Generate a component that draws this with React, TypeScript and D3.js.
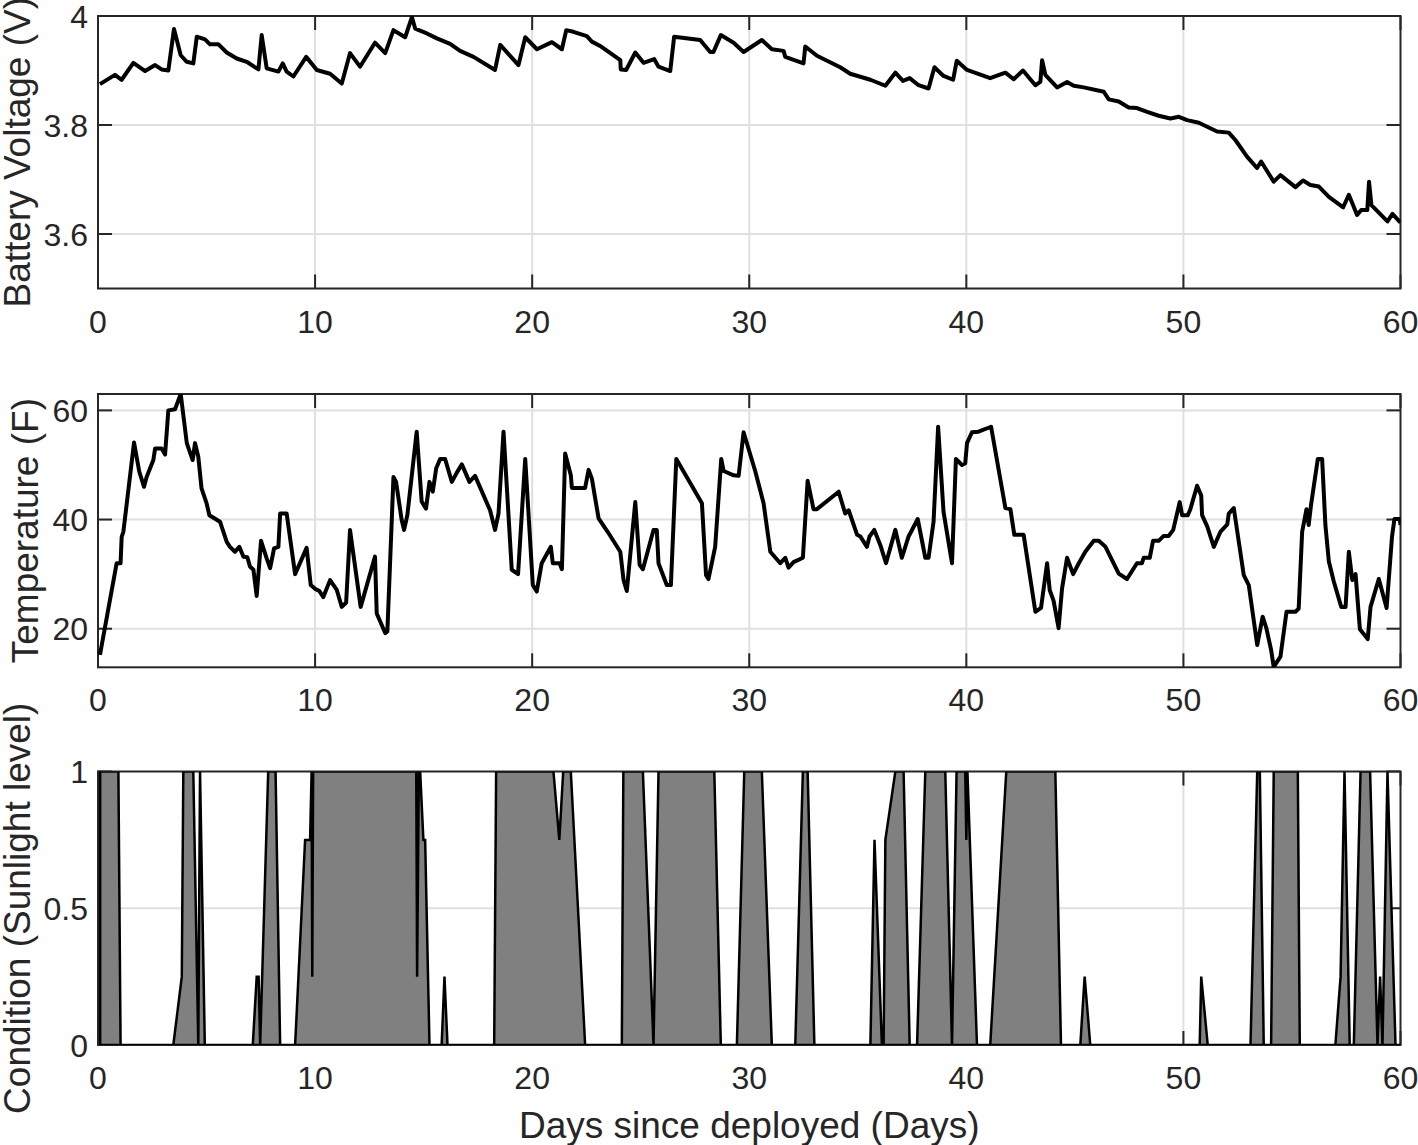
import React from 'react';
import * as d3 from 'd3';

// ---------------- DATA ----------------
const xTicks = [0, 10, 20, 30, 40, 50, 60];

const voltageTicks = [3.6, 3.8, 4];
const voltageTickLabels = ['3.6', '3.8', '4'];
const tempTicks = [20, 40, 60];
const tempTickLabels = ['20', '40', '60'];
const sunTicks = [0, 0.5, 1];
const sunTickLabels = ['0', '0.5', '1'];

const voltageDays = [
  0.09, 0.78, 1.09, 1.63, 2.17, 2.63, 2.93, 3.24, 3.5, 3.81, 4.09, 4.39, 4.55, 4.93, 5.16, 5.55, 5.93, 6.39, 6.85,
  7.39, 7.54, 7.77, 8.31, 8.51, 8.69, 9.0, 9.59, 10.08, 10.69, 11.23, 11.61, 12.07, 12.76, 13.23, 13.61, 14.15,
  14.46, 14.61, 15.15, 15.61, 16.22, 16.68, 17.3, 18.29, 18.53, 19.37, 19.68, 20.22, 20.91, 21.37, 21.57, 21.9,
  22.52, 22.75, 23.13, 24.06, 24.08, 24.33, 24.75, 25.13, 25.62, 25.82, 26.36, 26.54, 27.74, 28.2, 28.35, 28.69,
  29.28, 29.74, 30.58, 31.04, 31.58, 31.66, 32.5, 32.58, 33.12, 34.19, 34.65, 35.58, 36.27, 36.73, 37.08, 37.39,
  37.8, 38.26, 38.53, 38.95, 39.39, 39.56, 40.03, 41.1, 41.8, 42.18, 42.61, 43.18, 43.41, 43.49, 43.64, 44.18,
  44.64, 44.95, 45.41, 46.33, 46.56, 47.02, 47.48, 47.86, 48.33, 48.86, 49.4, 49.79, 50.17, 50.71, 51.55, 52.09,
  52.4, 52.93, 53.39, 53.58, 54.16, 54.47, 55.16, 55.51, 55.85, 56.24, 56.7, 57.36, 57.62, 58.0, 58.19, 58.47,
  58.55, 58.66, 59.4, 59.63, 60.0,
];
const voltageValues = [
  3.875, 3.892, 3.883, 3.914, 3.899, 3.91, 3.902, 3.9, 3.976, 3.928, 3.916, 3.913, 3.962, 3.957, 3.948, 3.948, 3.933,
  3.922, 3.916, 3.902, 3.965, 3.904, 3.898, 3.913, 3.898, 3.889, 3.925, 3.901, 3.894, 3.876, 3.932, 3.907, 3.951,
  3.932, 3.974, 3.961, 3.998, 3.977, 3.968, 3.959, 3.949, 3.936, 3.925, 3.901, 3.947, 3.91, 3.961, 3.939, 3.952,
  3.939, 3.974, 3.971, 3.963, 3.953, 3.945, 3.919, 3.902, 3.901, 3.933, 3.914, 3.921, 3.907, 3.899, 3.962, 3.956,
  3.934, 3.934, 3.965, 3.951, 3.934, 3.956, 3.939, 3.936, 3.925, 3.913, 3.944, 3.927, 3.906, 3.894, 3.883, 3.872,
  3.896, 3.881, 3.886, 3.873, 3.867, 3.906, 3.89, 3.883, 3.918, 3.901, 3.886, 3.896, 3.884, 3.9, 3.873, 3.879,
  3.919, 3.892, 3.869, 3.879, 3.872, 3.869, 3.861, 3.847, 3.843, 3.832, 3.831, 3.824, 3.817, 3.812, 3.815, 3.809,
  3.804, 3.788, 3.786, 3.772, 3.742, 3.721, 3.733, 3.696, 3.708, 3.686, 3.698, 3.69, 3.687, 3.668, 3.649, 3.672,
  3.635, 3.644, 3.644, 3.696, 3.653, 3.623, 3.637, 3.621,
];

const tempDays = [
  0.09, 0.86, 1.04, 1.09, 1.17, 1.66, 1.9, 2.12, 2.24, 2.55, 2.63, 2.93, 3.09, 3.24, 3.55, 3.81, 4.09, 4.36, 4.47,
  4.62, 4.77, 5.0, 5.13, 5.62, 5.93, 6.08, 6.31, 6.51, 6.7, 6.88, 7.0, 7.16, 7.31, 7.51, 7.77, 7.93, 8.11, 8.31,
  8.39, 8.69, 9.08, 9.61, 9.8, 10.0, 10.2, 10.38, 10.69, 11.0, 11.23, 11.43, 11.61, 12.1, 12.76, 12.84, 13.23,
  13.33, 13.61, 13.73, 13.99, 14.1, 14.25, 14.68, 14.91, 15.11, 15.27, 15.42, 15.58, 15.76, 15.99, 16.3, 16.53,
  16.76, 17.11, 17.37, 18.06, 18.29, 18.45, 18.68, 19.06, 19.35, 19.68, 20.03, 20.21, 20.44, 20.86, 20.95, 21.26,
  21.37, 21.52, 21.78, 21.83, 22.44, 22.6, 22.75, 23.06, 23.47, 24.06, 24.21, 24.36, 24.75, 24.95, 25.1, 25.59,
  25.74, 25.82, 26.2, 26.39, 26.64, 27.82, 28.01, 28.12, 28.43, 28.71, 28.82, 29.28, 29.51, 29.74, 30.28, 30.66,
  30.97, 31.43, 31.66, 31.81, 32.04, 32.47, 32.69, 32.96, 33.12, 34.12, 34.42, 34.58, 34.97, 35.12, 35.42, 35.54,
  35.76, 36.04, 36.3, 36.73, 37.03, 37.34, 37.76, 38.11, 38.26, 38.49, 38.7, 38.95, 39.34, 39.52, 39.8, 39.95,
  40.03, 40.26, 40.56, 41.14, 41.8, 42.03, 42.21, 42.64, 43.18, 43.44, 43.72, 43.84, 44.02, 44.25, 44.41, 44.64,
  44.92, 45.18, 45.48, 45.87, 46.1, 46.41, 47.02, 47.4, 47.86, 48.09, 48.17, 48.45, 48.6, 48.86, 49.09, 49.32,
  49.53, 49.83, 49.94, 50.2, 50.32, 50.63, 50.82, 50.86, 51.1, 51.4, 51.71, 52.02, 52.09, 52.32, 52.78, 53.01,
  53.4, 53.65, 53.82, 54.04, 54.16, 54.47, 54.75, 55.16, 55.31, 55.47, 55.67, 55.77, 55.88, 56.19, 56.39, 56.54,
  56.7, 56.93, 57.27, 57.47, 57.62, 57.78, 57.93, 58.13, 58.49, 58.62, 59.0, 59.36, 59.61, 59.72, 59.97, 60.0,
];
const tempValues = [
  15.2, 32.0, 32.0, 36.8, 37.8, 54.1, 48.8, 46.0, 47.8, 50.9, 53.0, 53.0, 51.9, 60.0, 60.2, 63.0, 54.0, 50.9, 54.0,
  51.5, 45.7, 43.0, 40.8, 39.6, 35.9, 35.0, 34.1, 35.0, 33.2, 33.1, 31.4, 30.8, 26.0, 36.1, 32.9, 31.1, 34.7, 35.0,
  41.1, 41.1, 30.0, 34.8, 28.0, 27.3, 26.9, 25.8, 28.9, 27.1, 24.0, 24.8, 38.1, 24.0, 33.2, 22.8, 19.2, 19.5, 47.8,
  46.9, 39.9, 38.1, 40.8, 56.1, 43.3, 42.0, 46.9, 45.1, 49.4, 51.1, 51.1, 46.9, 48.6, 50.1, 46.9, 48.0, 41.7, 38.1,
  41.1, 56.1, 30.8, 30.0, 51.1, 28.0, 26.8, 32.0, 35.0, 32.0, 32.0, 30.9, 52.1, 48.1, 45.8, 45.8, 49.1, 47.5, 40.2,
  37.8, 34.1, 28.9, 26.9, 43.2, 31.7, 30.9, 38.1, 38.1, 32.0, 28.0, 28.0, 51.1, 43.0, 29.8, 29.1, 35.0, 51.1, 48.9,
  48.1, 48.0, 56.0, 48.8, 43.0, 34.1, 32.0, 33.0, 31.2, 32.2, 33.0, 47.1, 41.9, 41.9, 45.1, 41.1, 41.7, 37.2, 36.9,
  35.0, 36.9, 38.1, 35.3, 32.0, 38.1, 33.0, 36.9, 40.1, 33.0, 33.0, 39.6, 57.0, 41.4, 32.0, 51.1, 50.0, 50.3, 54.0,
  56.0, 56.1, 57.0, 42.1, 41.9, 37.2, 37.2, 23.1, 23.8, 32.0, 27.1, 25.1, 20.1, 27.4, 33.0, 30.0, 32.0, 34.1, 36.1,
  36.1, 35.0, 30.1, 29.1, 32.0, 32.0, 33.0, 33.0, 36.1, 36.1, 37.0, 37.0, 38.1, 43.2, 40.8, 40.8, 41.9, 46.2, 44.4,
  40.8, 38.7, 35.0, 37.8, 39.1, 41.1, 42.1, 29.8, 28.0, 17.0, 22.2, 20.1, 16.1, 13.0, 14.9, 23.1, 23.1, 23.7, 37.8,
  41.9, 39.0, 42.7, 51.1, 51.1, 39.0, 32.3, 28.6, 24.0, 24.0, 34.1, 28.9, 30.0, 19.9, 18.1, 24.0, 29.1, 23.8, 36.9,
  40.1, 40.1, 39.0,
];

const sunDays = [
  0.1, 0.94, 1.04, 3.47, 3.86, 3.93, 4.39, 4.62, 4.7, 4.92, 7.13, 7.31, 7.4, 7.47, 7.84, 8.18, 8.39, 9.08, 9.54,
  9.77, 9.84, 9.87, 9.91, 14.66, 14.7, 14.78, 14.84, 14.99, 15.07, 15.27, 15.83, 15.96, 16.1, 18.25, 18.34, 20.98,
  21.25, 21.43, 21.78, 22.44, 24.13, 24.2, 25.1, 25.59, 25.82, 28.39, 28.69, 29.43, 29.77, 30.58, 31.04, 32.12,
  32.47, 32.69, 33.0, 35.58, 35.77, 36.11, 36.19, 36.27, 36.73, 37.11, 37.39, 37.73, 38.11, 39.03, 39.34, 39.55,
  39.95, 40.0, 40.05, 40.49, 41.1, 41.84, 44.1, 44.36, 45.25, 45.45, 45.71, 50.75, 50.82, 51.12, 53.09, 53.4,
  53.52, 53.7, 54.04, 54.16, 55.27, 55.36, 57.0, 57.24, 57.42, 57.66, 57.85, 58.16, 58.6, 58.94, 59.06, 59.17,
  59.4, 59.77, 60.0,
];
const sunValues = [
  1, 1, 0, 0, 0.25, 1, 1, 0, 1, 0, 0, 0.25, 0.25, 0, 1, 1, 0, 0, 0.75,
  0.75, 1, 0.25, 1, 1, 0.25, 1, 1, 0.75, 0.75, 0, 0, 0.25, 0, 0, 1, 1,
  0.75, 1, 1, 0, 0, 1, 1, 0, 1, 1, 0, 0, 1, 1, 0, 0,
  1, 1, 0, 0, 0.75, 0, 0, 0.75, 1, 1, 0, 0, 1, 1, 0, 1,
  1, 0.75, 1, 0, 0, 1, 1, 0, 0, 0.25, 0, 0, 0.25, 0, 0, 1,
  1, 0, 0, 1, 1, 0, 0, 0.25, 1, 0, 0, 1, 1, 0, 0.25, 0,
  1, 0, 0,
];

// ---------------- LAYOUT / STYLE ----------------
const W = 1418;
const H = 1145;
const LEFT = 98;
const RIGHT = 1400.5;
const FONT = '"Liberation Sans", Arial, Helvetica, sans-serif';
const TXT = '#262626';
const TICK_LEN = 14;

const x = d3.scaleLinear().domain([0, 60]).range([LEFT, RIGHT]);

type PanelDef = {
  id: string;
  top: number;
  bottom: number;
  domain: [number, number];
  ticks: number[];
  tickLabels: string[];
  label: string;
  labelX: number;
};

const panels: PanelDef[] = [
  { id: 'volt', top: 16, bottom: 288.5, domain: [3.5, 4.0], ticks: voltageTicks, tickLabels: voltageTickLabels, label: 'Battery Voltage (V)', labelX: 30 },
  { id: 'temp', top: 394, bottom: 667.3, domain: [12.93, 63], ticks: tempTicks, tickLabels: tempTickLabels, label: 'Temperature (F)', labelX: 38 },
  { id: 'sun', top: 771.5, bottom: 1045, domain: [0, 1], ticks: sunTicks, tickLabels: sunTickLabels, label: 'Condition (Sunlight level)', labelX: 30 },
];

function Axes({ p, y, children }: { p: PanelDef; y: d3.ScaleLinear<number, number>; children: React.ReactNode }) {
  return (
    <g>
      <defs>
        <clipPath id={`clip-${p.id}`}>
          <rect x={LEFT} y={p.top} width={RIGHT - LEFT} height={p.bottom - p.top} />
        </clipPath>
      </defs>
      {xTicks.filter((t) => t > 0 && t < 60).map((t) => (
        <line key={`gx${t}`} x1={x(t)} x2={x(t)} y1={p.top} y2={p.bottom} stroke="#e0e0e0" strokeWidth={2} />
      ))}
      {p.ticks.filter((t) => y(t) > p.top + 1 && y(t) < p.bottom - 1).map((t) => (
        <line key={`gy${t}`} x1={LEFT} x2={RIGHT} y1={y(t)} y2={y(t)} stroke="#e0e0e0" strokeWidth={2} />
      ))}
      {xTicks.map((t) => (
        <g key={`tx${t}`}>
          <line x1={x(t)} x2={x(t)} y1={p.bottom} y2={p.bottom - TICK_LEN} stroke={TXT} strokeWidth={2} />
          <line x1={x(t)} x2={x(t)} y1={p.top} y2={p.top + TICK_LEN} stroke={TXT} strokeWidth={2} />
        </g>
      ))}
      {p.ticks.map((t) => (
        <g key={`ty${t}`}>
          <line x1={LEFT} x2={LEFT + TICK_LEN} y1={y(t)} y2={y(t)} stroke={TXT} strokeWidth={2} />
          <line x1={RIGHT} x2={RIGHT - TICK_LEN} y1={y(t)} y2={y(t)} stroke={TXT} strokeWidth={2} />
        </g>
      ))}
      <rect x={LEFT} y={p.top} width={RIGHT - LEFT} height={p.bottom - p.top} fill="none" stroke={TXT} strokeWidth={2} />
      <g clipPath={`url(#clip-${p.id})`}>{children}</g>
      {xTicks.map((t) => (
        <text key={`lx${t}`} x={x(t)} y={p.bottom + 44} textAnchor="middle" fontSize={32} fontFamily={FONT} fill={TXT}>
          {t}
        </text>
      ))}
      {p.ticks.map((t, i) => (
        <text key={`ly${t}`} x={88} y={y(t) + 11.5} textAnchor="end" fontSize={32} fontFamily={FONT} fill={TXT}>
          {p.tickLabels[i]}
        </text>
      ))}
      <text
        transform={`translate(${p.labelX},${(p.top + p.bottom) / 2}) rotate(-90)`}
        textAnchor="middle"
        fontSize={37}
        fontFamily={FONT}
        fill={TXT}
      >
        {p.label}
      </text>
    </g>
  );
}

export default function App() {
  const yV = d3.scaleLinear().domain(panels[0].domain).range([panels[0].bottom, panels[0].top]);
  const yT = d3.scaleLinear().domain(panels[1].domain).range([panels[1].bottom, panels[1].top]);
  const yS = d3.scaleLinear().domain(panels[2].domain).range([panels[2].bottom, panels[2].top]);

  const vLine = d3.line<number>().x((d, i) => x(voltageDays[i])).y((d) => yV(d));
  const tLine = d3.line<number>().x((d, i) => x(tempDays[i])).y((d) => yT(d));
  const sArea = d3
    .area<number>()
    .x((d, i) => x(sunDays[i]))
    .y0(yS(0))
    .y1((d) => yS(d));

  return (
    <svg width={W} height={H} style={{ position: 'absolute', left: 0, top: 0, background: '#fff' }}>
      <rect x={0} y={0} width={W} height={H} fill="#fff" />
      <Axes p={panels[0]} y={yV}>
        <path d={vLine(voltageValues) || ''} fill="none" stroke="#000" strokeWidth={4} strokeLinejoin="round" />
      </Axes>
      <Axes p={panels[1]} y={yT}>
        <path d={tLine(tempValues) || ''} fill="none" stroke="#000" strokeWidth={4} strokeLinejoin="round" />
      </Axes>
      <Axes p={panels[2]} y={yS}>
        <path d={(sArea(sunValues) || '') + 'Z'} fill="#808080" stroke="#000" strokeWidth={2.5} strokeLinejoin="miter" />
      </Axes>
      <text x={(LEFT + RIGHT) / 2} y={1138} textAnchor="middle" fontSize={37} fontFamily={FONT} fill={TXT}>
        Days since deployed (Days)
      </text>
    </svg>
  );
}
